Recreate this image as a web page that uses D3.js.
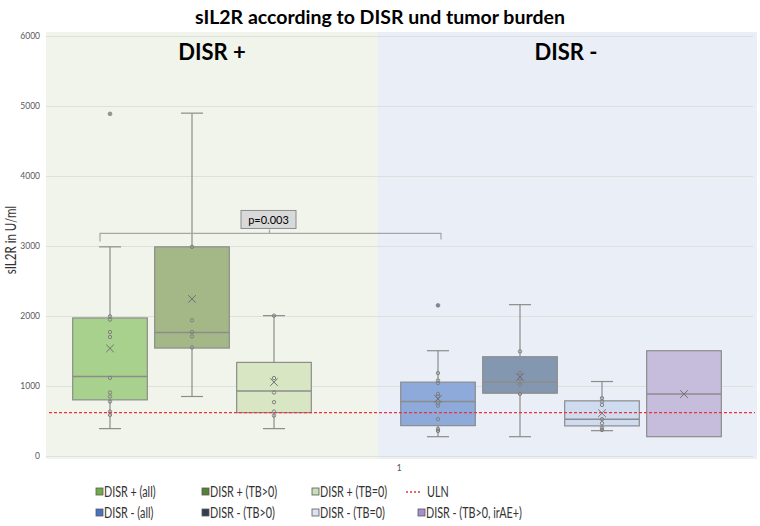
<!DOCTYPE html>
<html><head><meta charset="utf-8">
<script src="https://cdn.jsdelivr.net/npm/d3@7"></script>
<style>body{margin:0;background:#fff}svg{display:block}</style>
</head><body>
<script>
// ---- data ----
const seriesNames = ["DISR + (all)", "DISR + (TB>0)", "DISR + (TB=0)", "DISR - (all)", "DISR - (TB>0)", "DISR - (TB=0)", "DISR - (TB>0, irAE+)"];
const slots = ["s0", "s1", "s2", "s3", "s4", "s5", "s6", "s7"];
const seriesSlot = ["s0", "s1", "s2", "s4", "s5", "s6", "s7"];
const colors = ["#a9d18e", "#a4b887", "#d8e6c4", "#8eaadb", "#8497b0", "#cfdcf0", "#c6bddd"];
const legendColors = ["#70ad47", "#548235", "#c5e0b4", "#4472c4", "#333f50", "#dae3f3", "#a58fd0"];
const q1 = [802, 1542, 620, 434, 897, 430, 276];
const median = [1136, 1766, 927, 778, 1055, 526, 884];
const q3 = [1972, 2988, 1337, 1055, 1418, 788, 1504];
const whiskerLow = [391, 850, 391, 276, 276, 362, null];
const whiskerHigh = [2988, 4898, 2005, 1504, 2162, 1064, null];
const means = [1537, 2244, 1055, 816, 1127, 611, 884];
const outliers = [[4888], [], [], [2152], [], [], []];
const innerPoints = [
  [1995, 1948, 1771, 1700, 1117, 907, 850, 778, 634, 587],
  [2988, 1938, 1771, 1709, 1551],
  [2005, 1113, 907, 769, 634, 577],
  [1184, 1078, 1041, 888, 850, 755, 720, 526, 387, 358],
  [1494, 1184, 1103, 1021, 888],
  [826, 778, 730, 526, 468, 405, 372],
  []
];
const yTicks = [0, 1000, 2000, 3000, 4000, 5000, 6000];
const ulnValue = 620;
const pValueLabel = "p=0.003";
const bracketValue = 3179;
const groupLabels = ["DISR +", "DISR -"];
const categoryLabel = "1";
const title = "sIL2R according to DISR und tumor burden";
const yLabel = "sIL2R in U/ml";

// ---- layout ----
const W = 760, H = 526;
const plotL = 46, plotR = 757, plotT = 32, plotB = 459, split = 378;
const font = "Lato, 'Open Sans', sans-serif";

const svg = d3.select("body").append("svg").attr("width", W).attr("height", H)
  .style("font-family", font);

const y = d3.scaleLinear().domain([0, 6000]).range([456, 36]);
const x = d3.scaleBand().domain(slots).range([69, 725]).paddingInner(0.09).paddingOuter(0.045);
const bw = x.bandwidth();
const cx = i => x(seriesSlot[i]) + bw / 2;

// backgrounds
svg.append("rect").attr("x", plotL).attr("y", plotT).attr("width", split - plotL).attr("height", plotB - plotT).attr("fill", "#f0f4ea");
svg.append("rect").attr("x", split).attr("y", plotT).attr("width", plotR - split).attr("height", plotB - plotT).attr("fill", "#eaeef6");

// gridlines
svg.append("g").selectAll("line").data(yTicks).join("line")
  .attr("x1", plotL).attr("x2", plotR - 4)
  .attr("y1", d => Math.round(y(d)) + 0.5).attr("y2", d => Math.round(y(d)) + 0.5)
  .attr("stroke", "#dde1dd").attr("stroke-width", 1);

// y axis labels
const yAxis = d3.axisLeft(y).tickValues(yTicks).tickSize(0).tickPadding(0).tickFormat(d3.format("d"));
const ga = svg.append("g").attr("transform", "translate(40,0)").call(yAxis);
ga.select(".domain").remove();
ga.selectAll("text").attr("fill", "#595959").style("font-size", "8.5px").style("font-family", font);

// title
svg.append("text").attr("x", 380).attr("y", 24).attr("text-anchor", "middle")
  .style("font-size", "19.5px").style("font-weight", "bold").attr("fill", "#000").text(title);

// y label
svg.append("text").attr("transform", "translate(16,240) rotate(-90) scale(0.72,1)").attr("text-anchor", "middle")
  .style("font-size", "16px").attr("fill", "#333").text(yLabel);

// group labels
svg.append("text").attr("x", 212).attr("y", 60).attr("text-anchor", "middle")
  .style("font-size", "22px").style("font-weight", "bold").text(groupLabels[0]);
svg.append("text").attr("x", 566).attr("y", 60).attr("text-anchor", "middle")
  .style("font-size", "22px").style("font-weight", "bold").text(groupLabels[1]);

// category label
svg.append("text").attr("x", 399).attr("y", 471).attr("text-anchor", "middle")
  .style("font-size", "9px").attr("fill", "#595959").text(categoryLabel);

// boxes
const stroke = "#8c8c8c";
const g = svg.append("g");
seriesNames.forEach((name, i) => {
  const c = cx(i), x0 = x(seriesSlot[i]);
  const gi = g.append("g");
  if (whiskerHigh[i] != null) {
    gi.append("line").attr("x1", c).attr("x2", c).attr("y1", y(q3[i])).attr("y2", y(whiskerHigh[i])).attr("stroke", stroke).attr("stroke-width", 1.2);
    gi.append("line").attr("x1", c - 11).attr("x2", c + 11).attr("y1", y(whiskerHigh[i])).attr("y2", y(whiskerHigh[i])).attr("stroke", stroke).attr("stroke-width", 1.2);
    gi.append("line").attr("x1", c).attr("x2", c).attr("y1", y(q1[i])).attr("y2", y(whiskerLow[i])).attr("stroke", stroke).attr("stroke-width", 1.2);
    gi.append("line").attr("x1", c - 11).attr("x2", c + 11).attr("y1", y(whiskerLow[i])).attr("y2", y(whiskerLow[i])).attr("stroke", stroke).attr("stroke-width", 1.2);
  }
  gi.append("rect").attr("x", x0).attr("y", y(q3[i])).attr("width", bw).attr("height", y(q1[i]) - y(q3[i]))
    .attr("fill", colors[i]).attr("stroke", stroke).attr("stroke-width", 1.2);
  gi.append("line").attr("x1", x0).attr("x2", x0 + bw).attr("y1", y(median[i])).attr("y2", y(median[i])).attr("stroke", stroke).attr("stroke-width", 1.5);
  gi.selectAll("circle.in").data(innerPoints[i]).join("circle").attr("class", "in")
    .attr("cx", c).attr("cy", d => y(d)).attr("r", 1.7).attr("fill", "none").attr("stroke", "#7f7f7f").attr("stroke-width", 1);
  gi.selectAll("circle.out").data(outliers[i]).join("circle").attr("class", "out")
    .attr("cx", c).attr("cy", d => y(d)).attr("r", 1.9).attr("fill", i < 3 ? "#8a9a7a" : "#7a82a0").attr("stroke", stroke).attr("stroke-width", 0.8);
  const my = y(means[i]), s = 3.8;
  gi.append("path").attr("d", `M${c - s},${my - s}L${c + s},${my + s}M${c - s},${my + s}L${c + s},${my - s}`)
    .attr("stroke", "#6f6f6f").attr("stroke-width", 1);
});

// ULN line
svg.append("line").attr("x1", plotL + 3).attr("x2", plotR - 2).attr("y1", y(ulnValue)).attr("y2", y(ulnValue))
  .attr("stroke", "#e8323c").attr("stroke-width", 1.3).attr("stroke-dasharray", "3,2");

// p-value bracket (between series 0 and 3)
const bl = cx(0) - 10, br = cx(3) + 3, by = y(bracketValue), bm = (bl + br) / 2 - 1;
svg.append("path").attr("d", `M${bl},${by + 8}V${by}H${br}V${by + 6}M${bm},${by}V${by - 4}`)
  .attr("fill", "none").attr("stroke", "#a6a6a6").attr("stroke-width", 1.2);
svg.append("rect").attr("x", bm - 28.5).attr("y", by - 23).attr("width", 55).attr("height", 18)
  .attr("fill", "#d9d9d9").attr("stroke", "#8c8c8c").attr("stroke-width", 1);
svg.append("text").attr("x", bm - 1).attr("y", by - 9.5).attr("text-anchor", "middle")
  .style("font-size", "11px").attr("fill", "#000").text(pValueLabel);

// legend
const legX = [96, 202, 312, 418];
const legend = svg.append("g").style("font-size", "15px").attr("fill", "#333");
const row1 = [0, 1, 2], row2 = [3, 4, 5, 6];
const legItem = (i, lx, ly) => {
  legend.append("rect").attr("x", lx).attr("y", ly - 4).attr("width", 7).attr("height", 7)
    .attr("fill", legendColors[i]).attr("stroke", "#595959").attr("stroke-width", 0.8);
  legend.append("text").attr("transform", `translate(${lx + 8},${ly + 5}) scale(0.72,1)`).text(seriesNames[i]);
};
row1.forEach((i, k) => legItem(i, legX[k], 492));
row2.forEach((i, k) => legItem(i, legX[k], 513));
legend.append("line").attr("x1", 406).attr("x2", 420).attr("y1", 492).attr("y2", 492)
  .attr("stroke", "#e8323c").attr("stroke-width", 1.3).attr("stroke-dasharray", "2,2");
legend.append("text").attr("transform", "translate(427,497) scale(0.72,1)").text("ULN");
</script>
</body></html>
